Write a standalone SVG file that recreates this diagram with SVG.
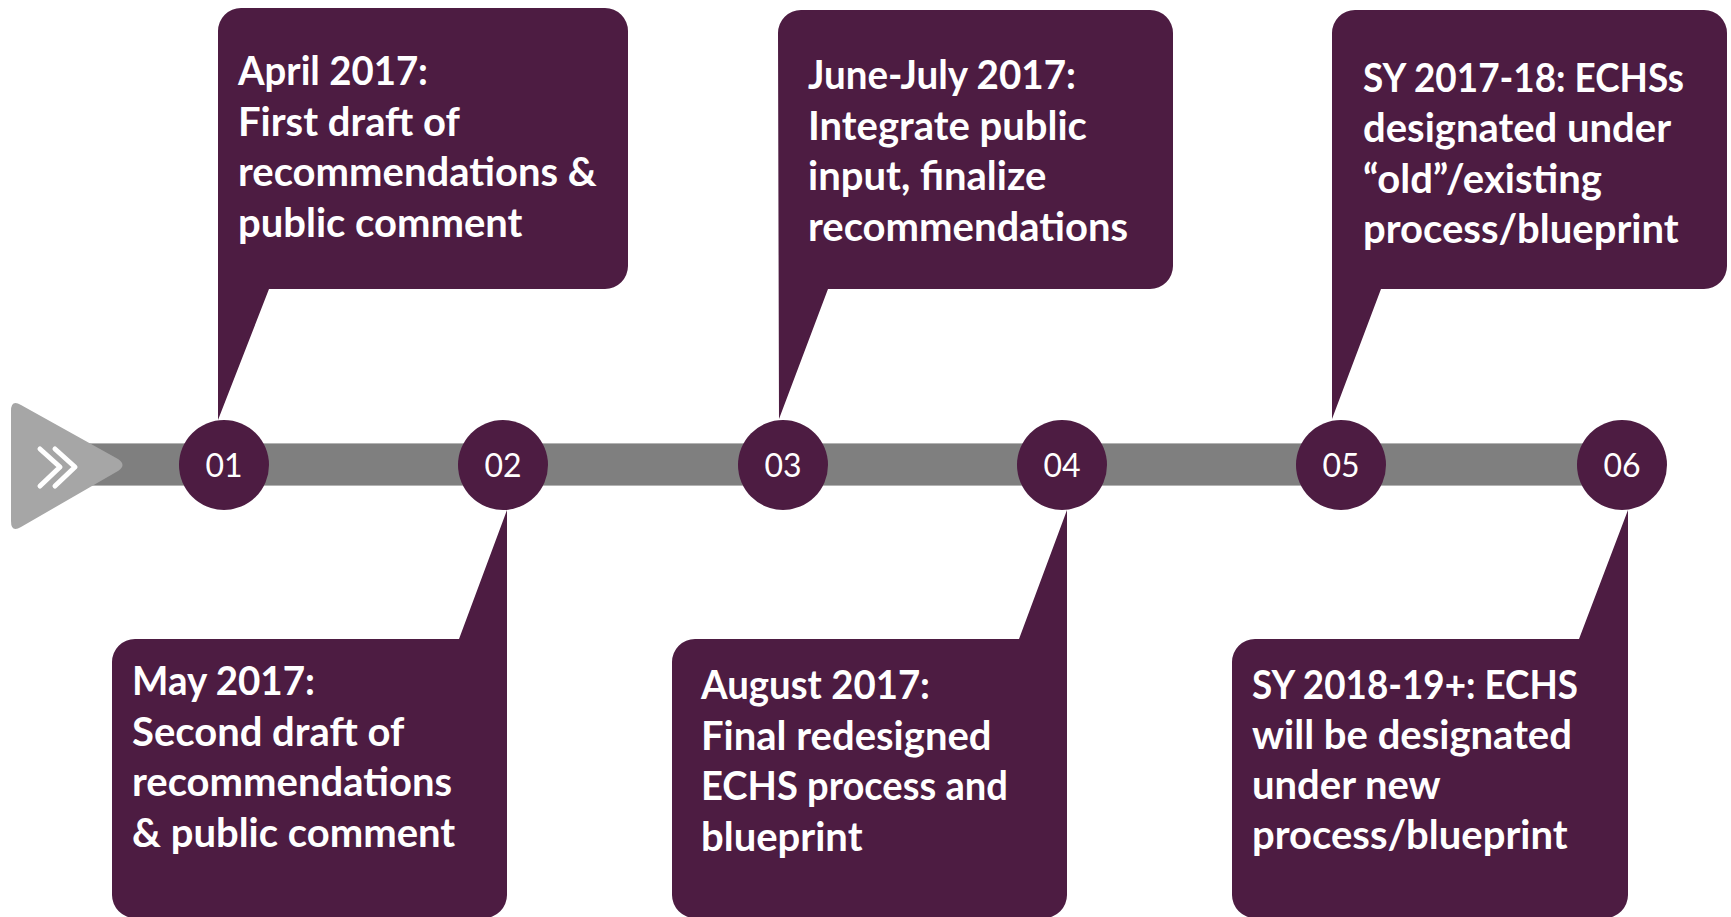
<svg xmlns="http://www.w3.org/2000/svg" width="1731" height="917" viewBox="0 0 1731 917">
  <style>
    .callout { fill: #4d1c42; }
    .dot { fill: #4d1c42; }
    .num { font-family: Lato, "Open Sans", sans-serif; font-size: 32px; fill: #ffffff; text-anchor: middle; }
    .label { font-family: Lato, "Open Sans", sans-serif; font-weight: bold; font-size: 40px; fill: #ffffff; }
    .chev { fill: none; stroke: #ffffff; stroke-width: 5; stroke-linecap: round; stroke-linejoin: round; }
  </style>

  <rect width="1731" height="917" fill="#ffffff"/>

  <!-- timeline track -->
  <g id="connectors">
    <rect x="60" y="443.5" width="1562" height="42" fill="#7f7f7f" stroke="#b3b3b3" stroke-width="1"/>
  </g>

  <!-- start arrow -->
  <g id="start">
    <path d="M 11 411 Q 11 399 21 405 L 118 459 Q 127 465 118 471 L 21 527 Q 11 533 11 521 Z" fill="#a6a6a6"/>
    <polyline class="chev" points="40,449 60,467 40,486"/>
    <polyline class="chev" points="55,449 75,467 55,486"/>
  </g>

  <!-- 01 : April 2017 -->
  <g id="step-01">
    <path class="callout" d="M 218 420 L 218 31 A 23 23 0 0 1 241 8 L 605 8 A 23 23 0 0 1 628 31 L 628 266 A 23 23 0 0 1 605 289 L 269 289 Z"/>
    <text class="label">
      <tspan x="238" y="85" textLength="190" lengthAdjust="spacingAndGlyphs">April 2017:</tspan>
      <tspan x="238" y="136">First draft of</tspan>
      <tspan x="238" y="186">recommendations &amp;</tspan>
      <tspan x="238" y="237">public comment</tspan>
    </text>
    <circle class="dot" cx="224" cy="465" r="45"/>
    <text class="num" x="224" y="477">01</text>
  </g>

  <!-- 02 : May 2017 -->
  <g id="step-02">
    <path class="callout" d="M 507 510 L 507 895 A 23 23 0 0 1 484 918 L 135 918 A 23 23 0 0 1 112 895 L 112 662 A 23 23 0 0 1 135 639 L 459 639 Z"/>
    <text class="label">
      <tspan x="132" y="695" textLength="183" lengthAdjust="spacingAndGlyphs">May 2017:</tspan>
      <tspan x="132" y="746">Second draft of</tspan>
      <tspan x="132" y="796">recommendations</tspan>
      <tspan x="132" y="847">&amp; public comment</tspan>
    </text>
    <circle class="dot" cx="503" cy="465" r="45"/>
    <text class="num" x="503" y="477">02</text>
  </g>

  <!-- 03 : June-July 2017 -->
  <g id="step-03">
    <path class="callout" d="M 779 419 L 778 33 A 23 23 0 0 1 801 10 L 1150 10 A 23 23 0 0 1 1173 33 L 1173 266 A 23 23 0 0 1 1150 289 L 828 289 Z"/>
    <text class="label">
      <tspan x="808" y="89" textLength="268" lengthAdjust="spacingAndGlyphs">June-July 2017:</tspan>
      <tspan x="808" y="140">Integrate public</tspan>
      <tspan x="808" y="190">input, finalize</tspan>
      <tspan x="808" y="241">recommendations</tspan>
    </text>
    <circle class="dot" cx="783" cy="465" r="45"/>
    <text class="num" x="783" y="477">03</text>
  </g>

  <!-- 04 : August 2017 -->
  <g id="step-04">
    <path class="callout" d="M 1067 510 L 1067 895 A 23 23 0 0 1 1044 918 L 695 918 A 23 23 0 0 1 672 895 L 672 662 A 23 23 0 0 1 695 639 L 1019 639 Z"/>
    <text class="label">
      <tspan x="701" y="699" textLength="229" lengthAdjust="spacingAndGlyphs">August 2017:</tspan>
      <tspan x="701" y="750">Final redesigned</tspan>
      <tspan x="701" y="800" textLength="307" lengthAdjust="spacingAndGlyphs">ECHS process and</tspan>
      <tspan x="701" y="851">blueprint</tspan>
    </text>
    <circle class="dot" cx="1062" cy="465" r="45"/>
    <text class="num" x="1062" y="477">04</text>
  </g>

  <!-- 05 : SY 2017-18 -->
  <g id="step-05">
    <path class="callout" d="M 1332 419 L 1332 33 A 23 23 0 0 1 1355 10 L 1704 10 A 23 23 0 0 1 1727 33 L 1727 266 A 23 23 0 0 1 1704 289 L 1381 289 Z"/>
    <text class="label">
      <tspan x="1363" y="92" textLength="321" lengthAdjust="spacingAndGlyphs">SY 2017-18: ECHSs</tspan>
      <tspan x="1363" y="142">designated under</tspan>
      <tspan x="1363" y="193">“old”/existing</tspan>
      <tspan x="1363" y="243">process/blueprint</tspan>
    </text>
    <circle class="dot" cx="1341" cy="465" r="45"/>
    <text class="num" x="1341" y="477">05</text>
  </g>

  <!-- 06 : SY 2018-19+ -->
  <g id="step-06">
    <path class="callout" d="M 1628 510 L 1628 895 A 23 23 0 0 1 1605 918 L 1255 918 A 23 23 0 0 1 1232 895 L 1232 662 A 23 23 0 0 1 1255 639 L 1579 639 Z"/>
    <text class="label">
      <tspan x="1252" y="699" textLength="326" lengthAdjust="spacingAndGlyphs">SY 2018-19+: ECHS</tspan>
      <tspan x="1252" y="749">will be designated</tspan>
      <tspan x="1252" y="799">under new</tspan>
      <tspan x="1252" y="849">process/blueprint</tspan>
    </text>
    <circle class="dot" cx="1622" cy="465" r="45"/>
    <text class="num" x="1622" y="477">06</text>
  </g>
</svg>
